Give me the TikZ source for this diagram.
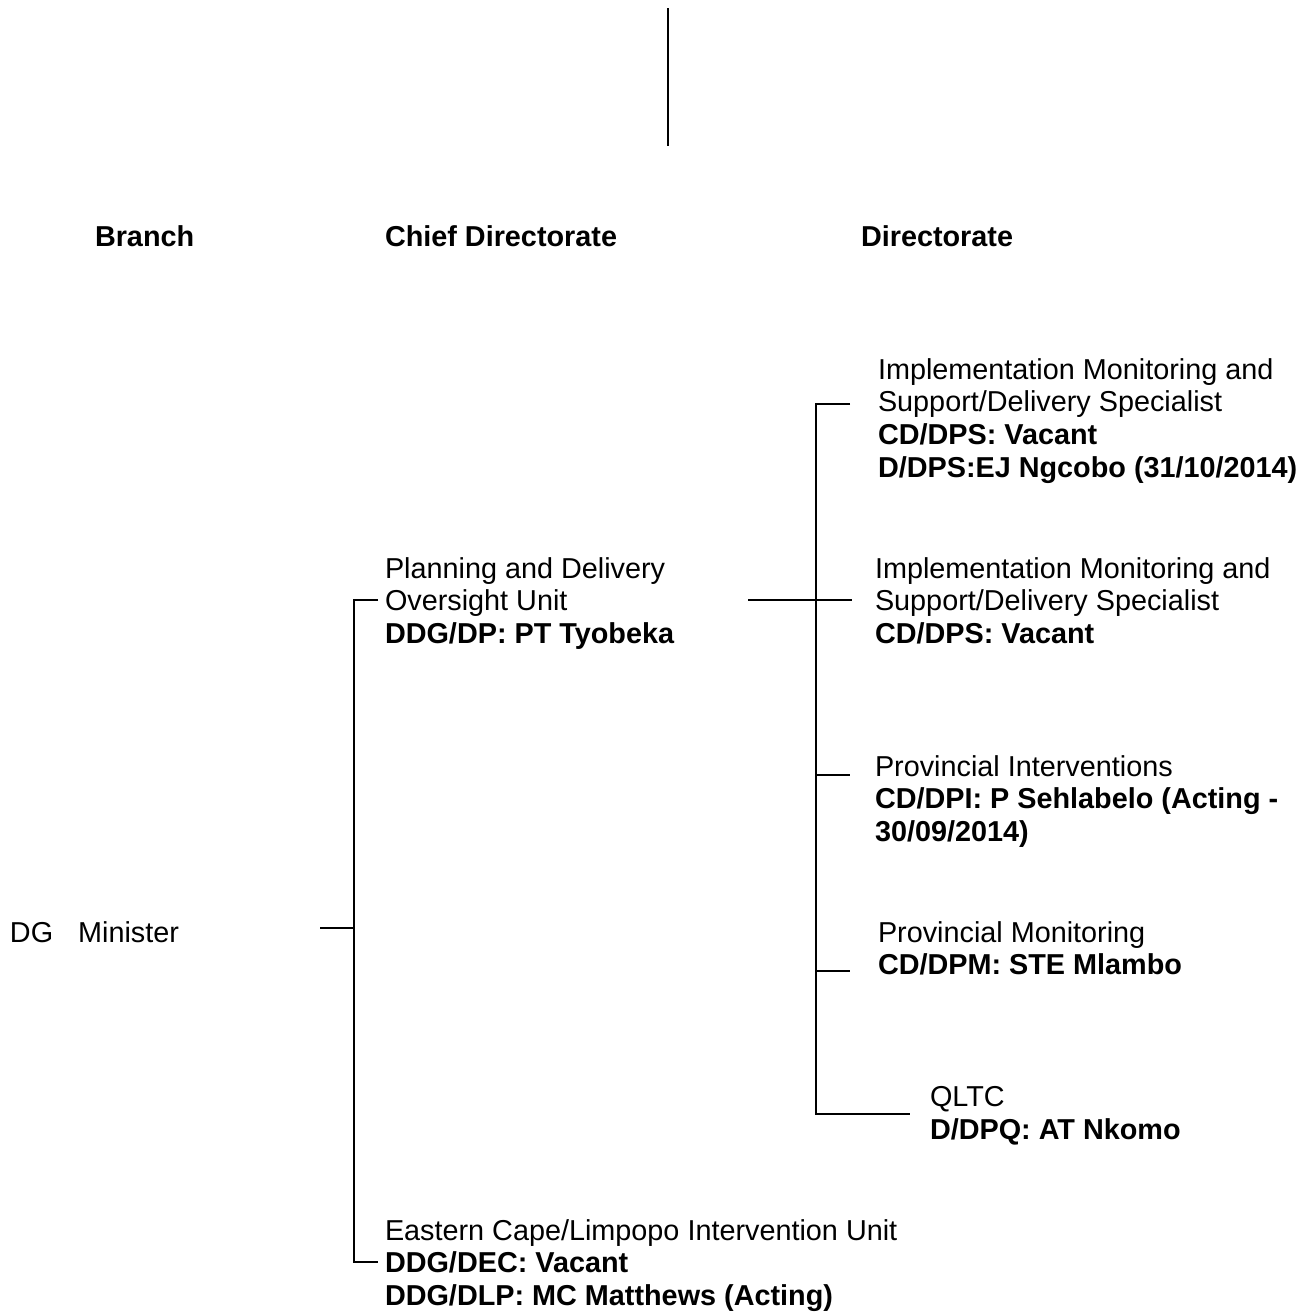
\documentclass[tikz,border=0pt]{standalone}
\usepackage{fontspec}
\setmainfont{Liberation Sans}
\tikzstyle{unit}=[anchor=north west,inner sep=0pt,outer sep=0pt,align=left,font={\fontsize{14.4}{16.4}\selectfont}]
\tikzstyle{head}=[anchor=west,inner sep=0pt,outer sep=0pt,font={\fontsize{14.4}{16.4}\selectfont\bfseries}]
\tikzstyle{link}=[draw,line width=1.1pt,-]

\begin{document}
\begin{tikzpicture}[x=0.5pt,y=-0.5pt]
    \useasboundingbox (0,0) rectangle (1309,1314);
    % Column headings
    \node[head] (branch) at (95,236) {Branch};
    \node[head] (chief) at (385,236) {Chief Directorate};
    \node[head] (dir) at (861,236) {Directorate};
    % Units
    \node[unit,anchor=west] (dg) at (10,932) {DG\hspace*{12.5pt}Minister};
    \node[unit] (pdou) at (385,557.3) {Planning and Delivery\\Oversight Unit\\\textbf{DDG/DP: PT Tyobeka}};
    \node[unit] (ecli) at (385,1219.3) {Eastern Cape/Limpopo Intervention Unit\\\textbf{DDG/DEC: Vacant}\\\textbf{DDG/DLP: MC Matthews (Acting)}};
    \node[unit] (imsa) at (878,358.3) {Implementation Monitoring and\\Support/Delivery Specialist\\\textbf{CD/DPS: Vacant}\\\textbf{D/DPS:EJ Ngcobo (31/10/2014)}};
    \node[unit] (imsb) at (875,557.3) {Implementation Monitoring and\\Support/Delivery Specialist\\\textbf{CD/DPS: Vacant}};
    \node[unit] (pint) at (875,755.3) {Provincial Interventions\\\textbf{CD/DPI: P Sehlabelo (Acting -}\\\textbf{30/09/2014)}};
    \node[unit] (pmon) at (878,921.3) {Provincial Monitoring\\\textbf{CD/DPM: STE Mlambo}};
    \node[unit] (qltc) at (930,1086.3) {QLTC\\\textbf{D/DPQ: AT Nkomo}};
    % Junction points of the lines
    \coordinate (top) at (668,8);
    \coordinate (bot) at (668,146);
    \coordinate (dgt) at (320,928);
    \coordinate (lb) at (354,928);
    \coordinate (lbt) at (354,600);
    \coordinate (lbb) at (354,1262);
    \coordinate (pdt) at (378,600);
    \coordinate (ect) at (378,1262);
    \coordinate (pdo) at (748,600);
    \coordinate (rbt) at (816,404);
    \coordinate (rpi) at (816,775);
    \coordinate (rpm) at (816,971);
    \coordinate (rbb) at (816,1114);
    \coordinate (ima) at (850,404);
    \coordinate (imb) at (852,600);
    \coordinate (pit) at (850,775);
    \coordinate (pmt) at (850,971);
    \coordinate (qlt) at (910,1114);
    % Connect the units
    \path[link] (top) -- (bot);
    \path[link] (dgt) -- (lb);
    \path[link] (pdt) -- (lbt) -- (lbb) -- (ect);
    \path[link] (ima) -- (rbt) -- (rbb) -- (qlt);
    \path[link] (pdo) -- (imb);
    \path[link] (rpi) -- (pit);
    \path[link] (rpm) -- (pmt);
\end{tikzpicture}
\end{document}
